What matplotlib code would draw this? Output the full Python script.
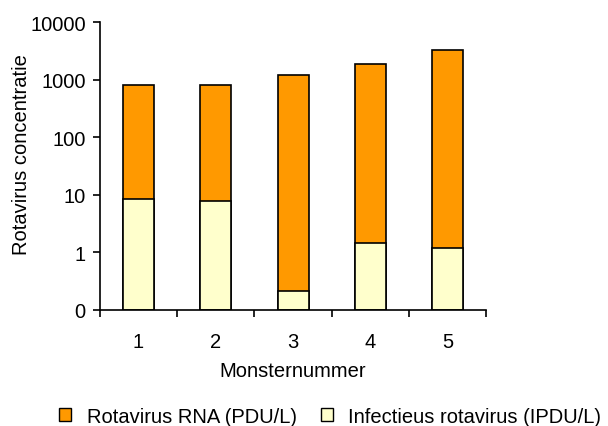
import matplotlib
matplotlib.use("Agg")
import matplotlib.pyplot as plt
from matplotlib.patches import Patch
from matplotlib.ticker import FixedLocator, FixedFormatter, NullLocator

# data
samples = [1, 2, 3, 4, 5]
rna = [800, 800, 1200, 1860, 3250]          # Rotavirus RNA (PDU/L)
infect = [8.3, 7.9, 0.21, 1.46, 1.21]       # Infectieus rotavirus (IPDU/L)
ytick_vals = [0.1, 1, 10, 100, 1000, 10000]
ytick_labels = ["0", "1", "10", "100", "1000", "10000"]

plt.rcParams["font.family"] = ["Liberation Sans", "DejaVu Sans"]
orange = "#FF9900"
yellow = "#FFFFCC"
ymin = 0.1
fs = 14.5

fig = plt.figure(figsize=(6.08, 4.27), dpi=100)
ax = fig.add_axes([0.164, 0.272, 0.636, 0.674])
ax.set_yscale("log")

ax.bar(samples, [v - ymin for v in rna], bottom=ymin, width=0.4,
       color=orange, edgecolor="black", linewidth=1.2)
ax.bar(samples, [v - ymin for v in infect], bottom=ymin, width=0.4,
       color=yellow, edgecolor="black", linewidth=1.2)

ax.set_ylim(ymin, 10000)
ax.set_xlim(0.5, 5.5)
ax.yaxis.set_major_locator(FixedLocator(ytick_vals))
ax.yaxis.set_major_formatter(FixedFormatter(ytick_labels))
ax.yaxis.set_minor_locator(NullLocator())
ax.set_xticks(samples)
ax.set_xticklabels([str(s) for s in samples])
ax.set_xticks([s - 0.5 for s in samples] + [5.5], minor=True)
ax.tick_params(axis="x", which="major", length=0, pad=16, labelsize=fs)
ax.tick_params(axis="x", which="minor", length=5, width=1.2, direction="out")
ax.tick_params(axis="y", length=5, width=1.2, labelsize=fs, pad=5)

for s in ["top", "right"]:
    ax.spines[s].set_visible(False)
for s in ["left", "bottom"]:
    ax.spines[s].set_linewidth(1.2)

ax.set_xlabel("Monsternummer", fontsize=fs, labelpad=7)
ax.set_ylabel("Rotavirus concentratie", fontsize=fs)
ax.yaxis.set_label_coords(-0.178, 0.542)

handles = [Patch(facecolor=orange, edgecolor="black", label="Rotavirus RNA (PDU/L)"),
           Patch(facecolor=yellow, edgecolor="black", label="Infectieus rotavirus (IPDU/L)")]
fig.legend(handles=handles, loc="center", bbox_to_anchor=(0.543, 0.023), ncol=2,
           frameon=False, fontsize=fs, handlelength=0.6, handleheight=0.6,
           handletextpad=0.75, columnspacing=1.2)

fig.savefig("out.png", dpi=100)
